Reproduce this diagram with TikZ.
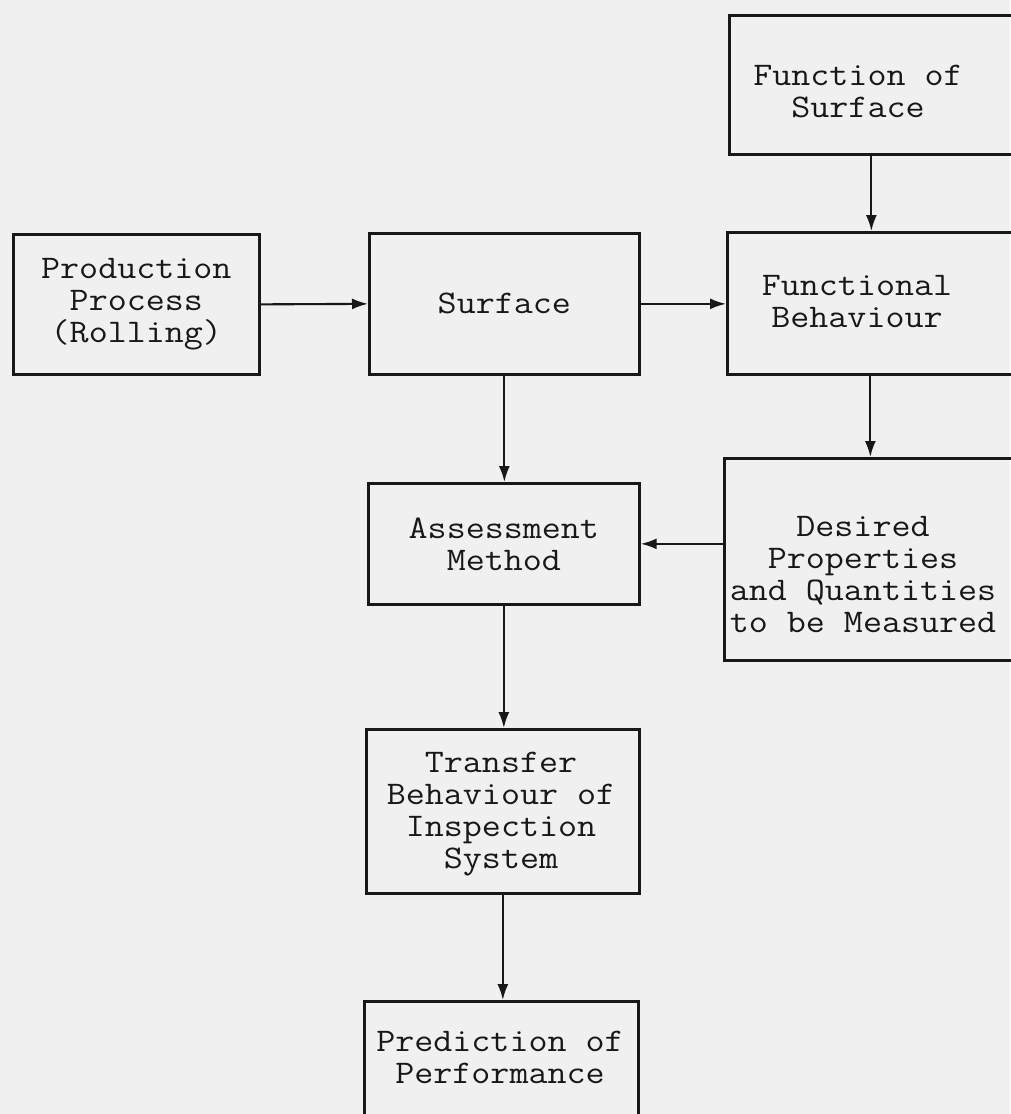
\documentclass[tikz,border=0pt]{standalone}
\usepackage{fontspec}
\setmonofont{Latin Modern Mono}[FakeStretch=1.12]
\usetikzlibrary{arrows.meta}
\definecolor{paper}{RGB}{240,240,240}
\definecolor{ink}{RGB}{24,24,24}
\begin{document}
\begin{tikzpicture}[x=1pt,y=-1pt,
  box/.style={draw=ink, line width=2.7pt, align=center, anchor=north west,
    font=\ttfamily\fontsize{33}{32}\selectfont, text=ink, inner sep=0pt},
  txt/.style={align=center, font=\ttfamily\fontsize{33}{32}\selectfont,
    text=ink, inner sep=0pt},
  conn/.style={draw=ink, line width=2.1pt, -{Latex[length=16pt,width=11pt]}}]
\useasboundingbox (0,0) rectangle (1010,1114);
\fill[paper] (0,0) rectangle (1010,1114);

\node[box, minimum width=246pt, minimum height=140pt] (prod) at (12,233)
  {Production\\Process\\(Rolling)};
\node[box, minimum width=270pt, minimum height=141pt] (surf) at (368,232)
  {Surface};
\node[box, minimum width=284pt, minimum height=139pt] (fos) at (728,14) {};
\node[txt] (fost) at (858,92) {Function of\\Surface};
\node[box, minimum width=286pt, minimum height=142pt] (fb) at (726,231) {};
\node[txt] (fbt) at (857,302) {Functional\\Behaviour};
\node[box, minimum width=289pt, minimum height=202pt] (desired) at (723,457) {};
\node[txt] (desiredt) at (863,575)
  {Desired\\Properties\\and Quantities\\to be Measured};
\node[box, minimum width=271pt, minimum height=121pt] (assess) at (367,482)
  {Assessment\\Method};
\node[box, minimum width=273pt, minimum height=164pt] (transfer) at (365,728) {};
\node[txt] (transfert) at (501,814)
  {Transfer\\Behaviour of\\Inspection\\System};
\node[box, minimum width=274pt, minimum height=130pt] (predict) at (363,1000) {};
\node[txt] (predictt) at (500,1057) {Prediction of\\Performance};

\draw[conn] (prod.east) -- (surf.west);
\draw[conn] (surf.east) -- (surf.east -| fb.west);
\draw[conn] (fos.south) -- (fos.south |- fb.north);
\draw[conn] (fb.south) -- (fb.south |- desired.north);
\draw[conn] (surf.south) -- (surf.south |- assess.north);
\draw[conn] (desired.west |- assess.east) -- (assess.east);
\draw[conn] (assess.south) -- (assess.south |- transfer.north);
\draw[conn] (transfer.south) -- (transfer.south |- predict.north);
\end{tikzpicture}
\end{document}
